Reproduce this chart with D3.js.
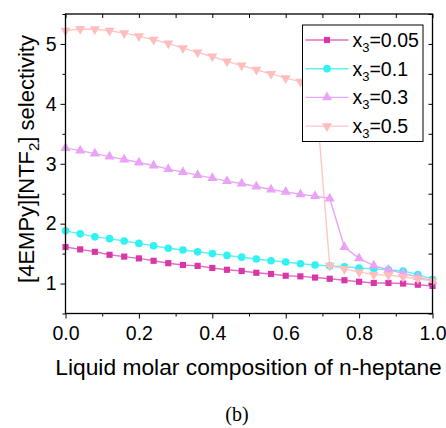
<!DOCTYPE html>
<html>
<head>
<meta charset="utf-8">
<script src="https://cdn.jsdelivr.net/npm/d3@7"></script>
<style>
  body { margin: 0; background: #fff; }
  svg { display: block; }
</style>
</head>
<body>
<div id="chart"></div>
<script>
// x = liquid molar composition of n-heptane
const xValues = [0, 0.04, 0.08, 0.12, 0.16, 0.20, 0.24, 0.28, 0.32, 0.36, 0.40, 0.44, 0.48,
  0.52, 0.56, 0.60, 0.64, 0.68, 0.72, 0.76, 0.80, 0.84, 0.88, 0.92, 0.96, 1.0]

const sel005 = [1.61, 1.57, 1.53, 1.48, 1.45, 1.42, 1.38, 1.34, 1.31, 1.295, 1.26, 1.23, 1.21,
  1.18, 1.16, 1.13, 1.12, 1.10, 1.08, 1.055, 1.03, 1.01, 1.01, 1.00, 0.98, 0.96]
const sel01 = [1.88, 1.83, 1.78, 1.75, 1.71, 1.67, 1.63, 1.59, 1.56, 1.53, 1.50, 1.47, 1.44,
  1.41, 1.38, 1.36, 1.33, 1.31, 1.295, 1.28, 1.26, 1.245, 1.23, 1.21, 1.15, 1.07]
const sel03 = [3.26, 3.22, 3.17, 3.12, 3.07, 3.02, 2.97, 2.91, 2.86, 2.81, 2.76, 2.71, 2.67,
  2.62, 2.57, 2.53, 2.49, 2.46, 2.42, 1.61, 1.42, 1.30, 1.23, 1.17, 1.11, 1.04]
const sel05 = [5.22, 5.25, 5.245, 5.22, 5.18, 5.13, 5.07, 5.01, 4.93, 4.86, 4.79, 4.71, 4.64,
  4.57, 4.50, 4.43, 4.37, 4.30, 1.30, 1.245, 1.19, 1.15, 1.14, 1.11, 1.08, 1.04]

const seriesNames = ["0.05", "0.1", "0.3", "0.5"]
const xTicks = [0, 0.2, 0.4, 0.6, 0.8, 1.0]
const yTicks = [1, 2, 3, 4, 5]

const W = 446, H = 428
const plot = {left: 65.5, right: 432.5, top: 14, bottom: 313.5}

const styles = [
  {marker: "#d936a8", line: "#e070c4", sym: d3.symbolSquare, size: 38, rot: 0},
  {marker: "#30f2f2", line: "#5cf0f0", sym: d3.symbolCircle, size: 46, rot: 0},
  {marker: "#eaa2f6", line: "#e6a8f4", sym: d3.symbolTriangle, size: 44, rot: 0},
  {marker: "#ffbdbd", line: "#ffc6c6", sym: d3.symbolTriangle, size: 44, rot: 180}
]
const allSeries = [sel005, sel01, sel03, sel05]

const x = d3.scaleLinear().domain([0, 1]).range([plot.left, plot.right])
const y = d3.scaleLinear().domain([0.5, 5.5]).range([plot.bottom, plot.top])

const svg = d3.select("#chart").append("svg")
    .attr("width", W).attr("height", H)
    .attr("viewBox", "0 0 " + W + " " + H)
    .style("font-family", "'Liberation Sans', Arial, sans-serif")

// series
const line = d3.line().x((d, i) => x(xValues[i])).y(d => y(d))
allSeries.forEach((vals, k) => {
  const st = styles[k]
  const g = svg.append("g")
  g.append("path").datum(vals)
    .attr("d", line)
    .attr("fill", "none")
    .attr("stroke", st.line)
    .attr("stroke-width", 1.4)
  g.selectAll("path.m").data(vals).join("path")
    .attr("class", "m")
    .attr("d", d3.symbol().type(st.sym).size(st.size))
    .attr("transform", (d, i) => "translate(" + x(xValues[i]) + "," + y(d) + ") rotate(" + st.rot + ")")
    .attr("fill", st.marker)
})

// axes
const fs = "19.5px"
const axBottom = svg.append("g").attr("transform", "translate(0," + plot.bottom + ")")
  .call(d3.axisBottom(x).tickValues(d3.range(0, 1.01, 0.1)).tickSize(0).tickFormat(""))
axBottom.select(".domain").remove()
axBottom.selectAll(".tick line").attr("y2", (d, i) => i % 2 === 0 ? 5 : 3).attr("stroke", "#000")
svg.append("g").attr("transform", "translate(0," + plot.bottom + ")")
  .call(d3.axisBottom(x).tickValues(xTicks).tickSize(0).tickPadding(13).tickFormat(d3.format(".1f")))
  .call(g => g.select(".domain").remove())
  .selectAll("text").attr("font-size", fs).attr("font-family", "'Liberation Sans', Arial, sans-serif").attr("fill", "#000")

const axTop = svg.append("g").attr("transform", "translate(0," + plot.top + ")")
  .call(d3.axisTop(x).tickValues(d3.range(0, 1.01, 0.1)).tickSize(-4).tickFormat(""))
axTop.select(".domain").remove()
axTop.selectAll(".tick line").attr("stroke", "#000")

const axLeft = svg.append("g").attr("transform", "translate(" + plot.left + ",0)")
  .call(d3.axisLeft(y).tickValues(d3.range(0.5, 5.51, 0.5)).tickSize(0).tickFormat(""))
axLeft.select(".domain").remove()
axLeft.selectAll(".tick line").attr("x2", d => Math.abs(d - Math.round(d)) < 0.01 ? -5 : -3).attr("stroke", "#000")
svg.append("g").attr("transform", "translate(" + plot.left + ",0)")
  .call(d3.axisLeft(y).tickValues(yTicks).tickSize(0).tickPadding(9).tickFormat(d3.format("d")))
  .call(g => g.select(".domain").remove())
  .selectAll("text").attr("font-size", fs).attr("font-family", "'Liberation Sans', Arial, sans-serif").attr("fill", "#000")

const axRight = svg.append("g").attr("transform", "translate(" + plot.right + ",0)")
  .call(d3.axisRight(y).tickValues(d3.range(0.5, 5.51, 0.5)).tickSize(-4).tickFormat(""))
axRight.select(".domain").remove()
axRight.selectAll(".tick line").attr("stroke", "#000")

// frame
svg.append("rect")
  .attr("x", plot.left).attr("y", plot.top)
  .attr("width", plot.right - plot.left).attr("height", plot.bottom - plot.top)
  .attr("fill", "none").attr("stroke", "#000").attr("stroke-width", 1.3)

// legend
const lg = {x: 302.5, y: 25, w: 120.5, h: 116.5, row: 28.7}
const legend = svg.append("g")
legend.append("rect")
  .attr("x", lg.x).attr("y", lg.y).attr("width", lg.w).attr("height", lg.h)
  .attr("fill", "#fff").attr("stroke", "#000").attr("stroke-width", 1)
seriesNames.forEach((name, k) => {
  const st = styles[k]
  const cy = lg.y + 15 + k * lg.row
  legend.append("line")
    .attr("x1", lg.x + 3).attr("x2", lg.x + 46).attr("y1", cy).attr("y2", cy)
    .attr("stroke", st.line).attr("stroke-width", 1.4)
  legend.append("path")
    .attr("d", d3.symbol().type(st.sym).size(st.size))
    .attr("transform", "translate(" + (lg.x + 24.5) + "," + cy + ") rotate(" + st.rot + ")")
    .attr("fill", st.marker)
  const t = legend.append("text")
    .attr("x", lg.x + 50).attr("y", cy + 7)
    .attr("font-size", "19.5px").attr("fill", "#000")
  t.append("tspan").text("x")
  t.append("tspan").attr("font-size", "13px").attr("dy", 5).text("3")
  t.append("tspan").attr("dy", -5).text("=" + name)
})

// axis titles
svg.append("text")
  .attr("x", 248.5).attr("y", 375)
  .attr("text-anchor", "middle").attr("font-size", "22.8px").attr("fill", "#000")
  .text("Liquid molar composition of n-heptane")

const yt = svg.append("text")
  .attr("transform", "translate(34," + 159 + ") rotate(-90)")
  .attr("text-anchor", "middle").attr("font-size", "22px").attr("fill", "#000")
yt.append("tspan").text("[4EMPy][NTF")
yt.append("tspan").attr("font-size", "15px").attr("dy", 5).text("2")
yt.append("tspan").attr("dy", -5).text("] selectivity")

// caption
svg.append("text")
  .attr("x", 237).attr("y", 421)
  .attr("text-anchor", "middle").attr("font-size", "20px")
  .attr("font-family", "'Liberation Serif', 'Times New Roman', serif").attr("fill", "#000")
  .text("(b)")
</script>
</body>
</html>
